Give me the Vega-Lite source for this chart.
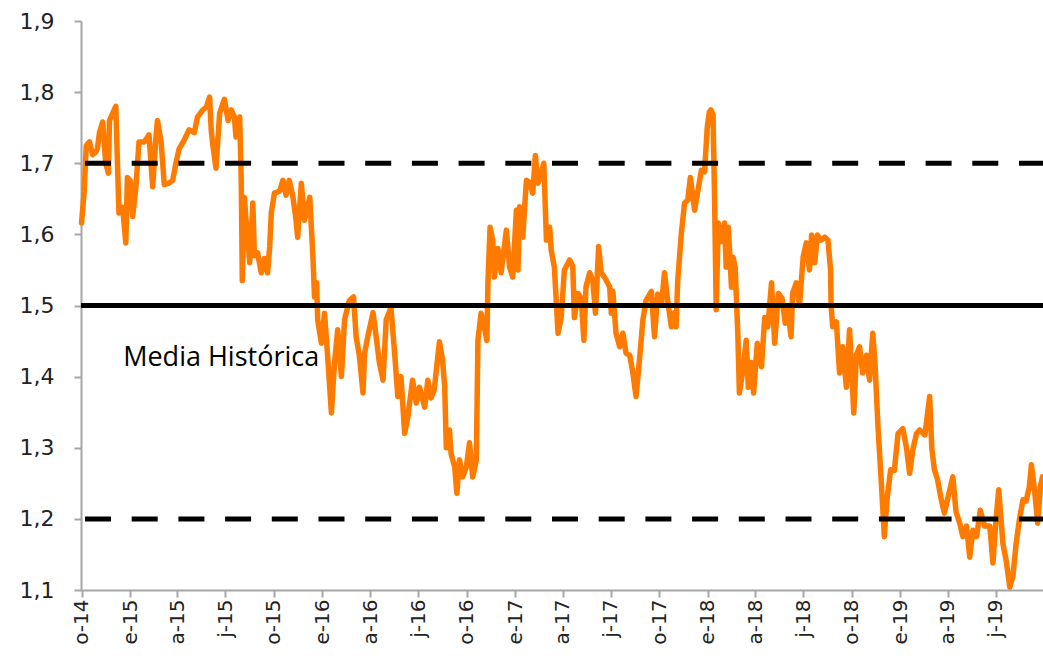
{
  "$schema": "https://vega.github.io/schema/vega-lite/v6.json",
  "width": 962,
  "height": 569,
  "autosize": {"type": "none"},
  "padding": {"left": 81, "top": 21, "right": 0, "bottom": 82},
  "background": "white",
  "config": {
    "view": {"stroke": null},
    "axis": {
      "grid": false,
      "domainColor": "#A6A6A6",
      "domainWidth": 2,
      "tickColor": "#A6A6A6",
      "tickWidth": 2,
      "tickSize": 7,
      "labelFont": "DejaVu Sans",
      "labelFontSize": 22,
      "labelColor": "#222222",
      "labelOverlap": false,
      "labelFlush": false,
      "labelBound": false,
      "title": null
    }
  },
  "datasets": {
    "series": [
      {"date":"2014-10-01","value":1.616},{"date":"2014-10-06","value":1.66},{"date":"2014-10-10","value":1.725},{"date":"2014-10-16","value":1.73},{"date":"2014-10-22","value":1.712},{"date":"2014-10-28","value":1.716},{"date":"2014-10-31","value":1.72},{"date":"2014-11-04","value":1.743},{"date":"2014-11-10","value":1.758},{"date":"2014-11-16","value":1.70},{"date":"2014-11-21","value":1.686},{"date":"2014-11-23","value":1.76},{"date":"2014-11-29","value":1.77},{"date":"2014-12-05","value":1.78},{"date":"2014-12-11","value":1.63},{"date":"2014-12-18","value":1.638},{"date":"2014-12-24","value":1.588},{"date":"2014-12-27","value":1.68},
      {"date":"2015-01-02","value":1.675},{"date":"2015-01-06","value":1.625},{"date":"2015-01-12","value":1.665},{"date":"2015-01-18","value":1.73},{"date":"2015-01-28","value":1.73},{"date":"2015-02-06","value":1.74},{"date":"2015-02-13","value":1.667},{"date":"2015-02-19","value":1.735},{"date":"2015-02-22","value":1.76},{"date":"2015-03-01","value":1.73},{"date":"2015-03-07","value":1.67},{"date":"2015-03-16","value":1.672},{"date":"2015-03-23","value":1.676},{"date":"2015-03-29","value":1.70},{"date":"2015-04-04","value":1.72},{"date":"2015-04-14","value":1.733},{"date":"2015-04-23","value":1.747},{"date":"2015-05-03","value":1.743},{"date":"2015-05-09","value":1.765},{"date":"2015-05-19","value":1.775},{"date":"2015-05-26","value":1.779},{"date":"2015-06-01","value":1.793},{"date":"2015-06-04","value":1.747},{"date":"2015-06-07","value":1.726},{"date":"2015-06-13","value":1.693},{"date":"2015-06-20","value":1.77},{"date":"2015-06-29","value":1.79},{"date":"2015-07-06","value":1.76},{"date":"2015-07-12","value":1.775},{"date":"2015-07-18","value":1.765},{"date":"2015-07-21","value":1.737},{"date":"2015-07-28","value":1.765},{"date":"2015-07-31","value":1.676},{"date":"2015-08-02","value":1.535},{"date":"2015-08-06","value":1.652},{"date":"2015-08-09","value":1.62},{"date":"2015-08-13","value":1.592},{"date":"2015-08-16","value":1.56},{"date":"2015-08-22","value":1.644},{"date":"2015-08-25","value":1.57},{"date":"2015-08-31","value":1.574},{"date":"2015-09-07","value":1.546},{"date":"2015-09-13","value":1.566},{"date":"2015-09-19","value":1.546},{"date":"2015-09-23","value":1.583},{"date":"2015-09-26","value":1.63},{"date":"2015-10-02","value":1.658},{"date":"2015-10-12","value":1.661},{"date":"2015-10-18","value":1.676},{"date":"2015-10-24","value":1.655},{"date":"2015-10-30","value":1.676},{"date":"2015-11-06","value":1.653},{"date":"2015-11-12","value":1.62},{"date":"2015-11-15","value":1.596},{"date":"2015-11-22","value":1.672},{"date":"2015-11-28","value":1.62},{"date":"2015-12-08","value":1.652},{"date":"2015-12-14","value":1.568},{"date":"2015-12-17","value":1.512},{"date":"2015-12-21","value":1.532},{"date":"2015-12-23","value":1.48},{"date":"2015-12-30","value":1.447},
      {"date":"2016-01-05","value":1.489},{"date":"2016-01-11","value":1.428},{"date":"2016-01-18","value":1.349},{"date":"2016-01-24","value":1.42},{"date":"2016-01-30","value":1.466},{"date":"2016-02-06","value":1.40},{"date":"2016-02-12","value":1.48},{"date":"2016-02-21","value":1.507},{"date":"2016-02-29","value":1.512},{"date":"2016-03-05","value":1.456},{"date":"2016-03-11","value":1.43},{"date":"2016-03-18","value":1.377},{"date":"2016-03-21","value":1.433},{"date":"2016-03-27","value":1.456},{"date":"2016-04-06","value":1.49},{"date":"2016-04-12","value":1.456},{"date":"2016-04-18","value":1.42},{"date":"2016-04-25","value":1.395},{"date":"2016-05-01","value":1.48},{"date":"2016-05-10","value":1.497},{"date":"2016-05-17","value":1.433},{"date":"2016-05-23","value":1.372},{"date":"2016-05-29","value":1.40},{"date":"2016-06-05","value":1.32},{"date":"2016-06-11","value":1.343},{"date":"2016-06-20","value":1.395},{"date":"2016-06-27","value":1.363},{"date":"2016-07-03","value":1.385},{"date":"2016-07-13","value":1.357},{"date":"2016-07-19","value":1.395},{"date":"2016-07-25","value":1.37},{"date":"2016-07-31","value":1.381},{"date":"2016-08-10","value":1.449},{"date":"2016-08-16","value":1.423},{"date":"2016-08-20","value":1.385},{"date":"2016-08-23","value":1.30},{"date":"2016-08-29","value":1.325},{"date":"2016-09-01","value":1.292},{"date":"2016-09-08","value":1.273},{"date":"2016-09-12","value":1.236},{"date":"2016-09-17","value":1.283},{"date":"2016-09-23","value":1.259},{"date":"2016-09-30","value":1.273},{"date":"2016-10-06","value":1.307},{"date":"2016-10-12","value":1.259},{"date":"2016-10-19","value":1.283},{"date":"2016-10-22","value":1.451},{"date":"2016-10-28","value":1.489},{"date":"2016-11-03","value":1.47},{"date":"2016-11-08","value":1.451},{"date":"2016-11-10","value":1.532},{"date":"2016-11-14","value":1.61},{"date":"2016-11-19","value":1.592},{"date":"2016-11-22","value":1.54},{"date":"2016-11-29","value":1.58},{"date":"2016-12-05","value":1.546},{"date":"2016-12-15","value":1.606},{"date":"2016-12-21","value":1.554},{"date":"2016-12-27","value":1.54},
      {"date":"2017-01-03","value":1.634},{"date":"2017-01-06","value":1.55},{"date":"2017-01-09","value":1.639},{"date":"2017-01-15","value":1.596},{"date":"2017-01-22","value":1.676},{"date":"2017-01-28","value":1.673},{"date":"2017-02-03","value":1.658},{"date":"2017-02-08","value":1.711},{"date":"2017-02-13","value":1.672},{"date":"2017-02-19","value":1.686},{"date":"2017-02-24","value":1.70},{"date":"2017-03-01","value":1.592},{"date":"2017-03-07","value":1.61},{"date":"2017-03-10","value":1.578},{"date":"2017-03-16","value":1.554},{"date":"2017-03-23","value":1.461},{"date":"2017-03-29","value":1.483},{"date":"2017-04-04","value":1.55},{"date":"2017-04-14","value":1.564},{"date":"2017-04-20","value":1.555},{"date":"2017-04-23","value":1.483},{"date":"2017-04-30","value":1.517},{"date":"2017-05-06","value":1.51},{"date":"2017-05-11","value":1.451},{"date":"2017-05-15","value":1.526},{"date":"2017-05-22","value":1.546},{"date":"2017-05-28","value":1.535},{"date":"2017-06-02","value":1.489},{"date":"2017-06-08","value":1.583},{"date":"2017-06-13","value":1.546},{"date":"2017-06-19","value":1.54},{"date":"2017-06-29","value":1.526},{"date":"2017-07-02","value":1.489},{"date":"2017-07-05","value":1.52},{"date":"2017-07-11","value":1.461},{"date":"2017-07-18","value":1.442},{"date":"2017-07-24","value":1.461},{"date":"2017-07-30","value":1.433},{"date":"2017-08-06","value":1.43},{"date":"2017-08-12","value":1.405},{"date":"2017-08-18","value":1.372},{"date":"2017-08-25","value":1.428},{"date":"2017-08-31","value":1.48},{"date":"2017-09-06","value":1.507},{"date":"2017-09-16","value":1.52},{"date":"2017-09-22","value":1.456},{"date":"2017-09-28","value":1.516},{"date":"2017-10-05","value":1.50},{"date":"2017-10-11","value":1.546},{"date":"2017-10-17","value":1.507},{"date":"2017-10-24","value":1.47},{"date":"2017-10-30","value":1.49},{"date":"2017-11-02","value":1.47},{"date":"2017-11-05","value":1.535},{"date":"2017-11-12","value":1.602},{"date":"2017-11-18","value":1.644},{"date":"2017-11-24","value":1.648},{"date":"2017-11-29","value":1.68},{"date":"2017-12-07","value":1.634},{"date":"2017-12-13","value":1.66},{"date":"2017-12-20","value":1.69},{"date":"2017-12-26","value":1.688},{"date":"2017-12-31","value":1.75},
      {"date":"2018-01-04","value":1.772},{"date":"2018-01-07","value":1.775},{"date":"2018-01-11","value":1.768},{"date":"2018-01-14","value":1.648},{"date":"2018-01-17","value":1.494},{"date":"2018-01-21","value":1.616},{"date":"2018-01-27","value":1.59},{"date":"2018-02-02","value":1.616},{"date":"2018-02-05","value":1.554},{"date":"2018-02-09","value":1.61},{"date":"2018-02-15","value":1.526},{"date":"2018-02-18","value":1.568},{"date":"2018-02-22","value":1.554},{"date":"2018-02-27","value":1.461},{"date":"2018-03-02","value":1.377},{"date":"2018-03-09","value":1.41},{"date":"2018-03-15","value":1.451},{"date":"2018-03-19","value":1.385},{"date":"2018-03-25","value":1.42},{"date":"2018-03-29","value":1.377},{"date":"2018-04-05","value":1.447},{"date":"2018-04-13","value":1.414},{"date":"2018-04-19","value":1.483},{"date":"2018-04-25","value":1.47},{"date":"2018-05-02","value":1.532},{"date":"2018-05-08","value":1.447},{"date":"2018-05-15","value":1.517},{"date":"2018-05-22","value":1.51},{"date":"2018-05-28","value":1.475},{"date":"2018-06-02","value":1.494},{"date":"2018-06-08","value":1.456},{"date":"2018-06-11","value":1.517},{"date":"2018-06-18","value":1.532},{"date":"2018-06-24","value":1.50},{"date":"2018-07-01","value":1.568},{"date":"2018-07-07","value":1.588},{"date":"2018-07-13","value":1.55},{"date":"2018-07-17","value":1.599},{"date":"2018-07-23","value":1.56},{"date":"2018-07-28","value":1.599},{"date":"2018-08-04","value":1.592},{"date":"2018-08-11","value":1.596},{"date":"2018-08-17","value":1.592},{"date":"2018-08-22","value":1.55},{"date":"2018-08-23","value":1.50},{"date":"2018-08-26","value":1.47},{"date":"2018-09-02","value":1.477},{"date":"2018-09-08","value":1.405},{"date":"2018-09-14","value":1.442},{"date":"2018-09-21","value":1.385},{"date":"2018-09-27","value":1.466},{"date":"2018-10-01","value":1.409},{"date":"2018-10-05","value":1.349},{"date":"2018-10-10","value":1.43},{"date":"2018-10-16","value":1.442},{"date":"2018-10-22","value":1.405},{"date":"2018-10-29","value":1.43},{"date":"2018-11-04","value":1.395},{"date":"2018-11-10","value":1.461},{"date":"2018-11-14","value":1.423},{"date":"2018-11-20","value":1.329},{"date":"2018-11-26","value":1.255},{"date":"2018-12-02","value":1.175},{"date":"2018-12-07","value":1.227},{"date":"2018-12-14","value":1.269},{"date":"2018-12-21","value":1.268},{"date":"2018-12-28","value":1.32},
      {"date":"2019-01-06","value":1.327},{"date":"2019-01-13","value":1.30},{"date":"2019-01-19","value":1.264},{"date":"2019-01-25","value":1.297},{"date":"2019-02-01","value":1.32},{"date":"2019-02-07","value":1.325},{"date":"2019-02-17","value":1.318},{"date":"2019-02-26","value":1.372},{"date":"2019-03-02","value":1.30},{"date":"2019-03-07","value":1.269},{"date":"2019-03-13","value":1.255},{"date":"2019-03-20","value":1.227},{"date":"2019-03-26","value":1.208},{"date":"2019-04-02","value":1.231},{"date":"2019-04-11","value":1.259},{"date":"2019-04-17","value":1.21},{"date":"2019-04-24","value":1.194},{"date":"2019-04-30","value":1.175},{"date":"2019-05-07","value":1.19},{"date":"2019-05-13","value":1.146},{"date":"2019-05-19","value":1.184},{"date":"2019-05-26","value":1.175},{"date":"2019-06-02","value":1.212},{"date":"2019-06-10","value":1.19},{"date":"2019-06-20","value":1.19},{"date":"2019-06-26","value":1.138},{"date":"2019-07-02","value":1.20},{"date":"2019-07-07","value":1.241},{"date":"2019-07-15","value":1.165},{"date":"2019-07-21","value":1.142},{"date":"2019-07-28","value":1.104},{"date":"2019-08-03","value":1.12},{"date":"2019-08-09","value":1.165},{"date":"2019-08-15","value":1.198},{"date":"2019-08-22","value":1.227},{"date":"2019-08-28","value":1.225},{"date":"2019-09-03","value":1.245},{"date":"2019-09-07","value":1.276},{"date":"2019-09-13","value":1.24},{"date":"2019-09-19","value":1.194},{"date":"2019-09-24","value":1.245},{"date":"2019-09-28","value":1.259}
    ],
    "bands": [
      {"level": 1.7, "kind": "dashed"},
      {"level": 1.2, "kind": "dashed"}
    ],
    "mean": [
      {"level": 1.5}
    ],
    "label": [
      {"date": "2014-12-19", "value": 1.415, "text": "Media Histórica"}
    ]
  },
  "layer": [
    {
      "data": {"name": "series"},
      "mark": {"type": "line", "color": "#FF7B00", "strokeWidth": 5.5, "strokeJoin": "round", "strokeCap": "round"},
      "encoding": {
        "x": {
          "field": "date",
          "type": "temporal",
          "scale": {"type": "utc", "domain": [{"year": 2014, "month": 9, "date": 30, "utc": true}, {"year": 2019, "month": 9, "date": 29, "utc": true}]},
          "axis": {
            "values": [
              {"year": 2014, "month": 10, "date": 1, "utc": true},
              {"year": 2015, "month": 1, "date": 1, "utc": true},
              {"year": 2015, "month": 4, "date": 1, "utc": true},
              {"year": 2015, "month": 7, "date": 1, "utc": true},
              {"year": 2015, "month": 10, "date": 1, "utc": true},
              {"year": 2016, "month": 1, "date": 1, "utc": true},
              {"year": 2016, "month": 4, "date": 1, "utc": true},
              {"year": 2016, "month": 7, "date": 1, "utc": true},
              {"year": 2016, "month": 10, "date": 1, "utc": true},
              {"year": 2017, "month": 1, "date": 1, "utc": true},
              {"year": 2017, "month": 4, "date": 1, "utc": true},
              {"year": 2017, "month": 7, "date": 1, "utc": true},
              {"year": 2017, "month": 10, "date": 1, "utc": true},
              {"year": 2018, "month": 1, "date": 1, "utc": true},
              {"year": 2018, "month": 4, "date": 1, "utc": true},
              {"year": 2018, "month": 7, "date": 1, "utc": true},
              {"year": 2018, "month": 10, "date": 1, "utc": true},
              {"year": 2019, "month": 1, "date": 1, "utc": true},
              {"year": 2019, "month": 4, "date": 1, "utc": true},
              {"year": 2019, "month": 7, "date": 1, "utc": true}
            ],
            "labelExpr": "['e','f','m','a','m','j','j','a','s','o','n','d'][utcmonth(datum.value)] + '-' + utcFormat(datum.value, '%y')",
            "labelAngle": 270,
            "labelAlign": "right",
            "labelBaseline": "middle",
            "labelPadding": 2,
            "labelFontSize": 20
          }
        },
        "y": {
          "field": "value",
          "type": "quantitative",
          "scale": {"domain": [1.1, 1.9], "nice": false, "zero": false},
          "axis": {
            "values": [1.1, 1.2, 1.3, 1.4, 1.5, 1.6, 1.7, 1.8, 1.9],
            "labelExpr": "replace(format(datum.value, '.1f'), '.', ',')",
            "labelPadding": 20
          }
        }
      }
    },
    {
      "data": {"name": "bands"},
      "mark": {"type": "rule", "color": "#000000", "strokeWidth": 5, "strokeDash": [26, 20.7], "strokeDashOffset": 2},
      "encoding": {"y": {"field": "level", "type": "quantitative"}}
    },
    {
      "data": {"name": "mean"},
      "mark": {"type": "rule", "color": "#000000", "strokeWidth": 5},
      "encoding": {"y": {"field": "level", "type": "quantitative"}}
    },
    {
      "data": {"name": "label"},
      "mark": {"type": "text", "font": "Open Sans", "fontSize": 27, "color": "#000000", "align": "left", "baseline": "alphabetic"},
      "encoding": {
        "x": {"field": "date", "type": "temporal"},
        "y": {"field": "value", "type": "quantitative"},
        "text": {"field": "text"}
      }
    }
  ]
}
